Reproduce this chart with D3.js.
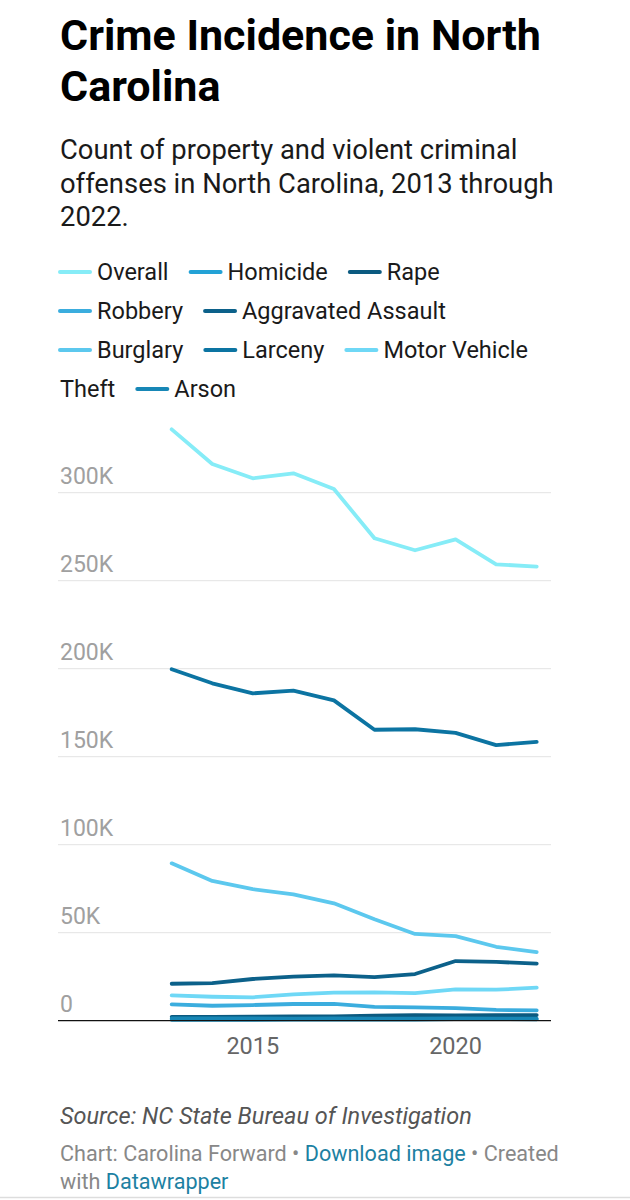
<!DOCTYPE html>
<html>
<head>
<meta charset="utf-8">
<script src="https://cdn.jsdelivr.net/npm/d3@7"></script>
<style>
  body { margin: 0; background: #fff; }
  svg { display: block; font-family: Roboto, "Noto Sans", sans-serif; }
</style>
</head>
<body>
<script>
// values, 2013 - 2022
var years = [2013, 2014, 2015, 2016, 2017, 2018, 2019, 2020, 2021, 2022];

var overall      = [336000, 316300, 308200, 311000, 302100, 274100, 267300, 273500, 259300, 258000];
var homicide     = [500, 510, 520, 590, 600, 610, 650, 910, 870, 800];
var rape         = [2200, 2150, 2300, 2400, 2500, 2800, 3200, 3000, 3100, 3200];
var robbery      = [9300, 8500, 8900, 9500, 9500, 7800, 7600, 7200, 6100, 5900];
var aggAssault   = [21000, 21400, 23700, 25000, 25800, 24800, 26500, 33900, 33400, 32400];
var burglary     = [89400, 79400, 74700, 71800, 66700, 57600, 49300, 48100, 42000, 39000];
var larceny      = [199700, 191700, 186000, 187500, 182000, 165300, 165600, 163500, 156600, 158400];
var motorVehicle = [14400, 13600, 13300, 15000, 15900, 16100, 15700, 17800, 17600, 18750];
var arson        = [1300, 1250, 1250, 1200, 1250, 1150, 1200, 1250, 1150, 1100];

var seriesNames = ['Overall', 'Homicide', 'Rape', 'Robbery', 'Aggravated Assault',
    'Burglary', 'Larceny', 'Motor Vehicle Theft', 'Arson'];
var seriesValues = [overall, homicide, rape, robbery, aggAssault,
    burglary, larceny, motorVehicle, arson];
var seriesColors = ['#86ecf7', '#23a2d6', '#0b5a80', '#3badde', '#0c618a',
    '#5cc8ee', '#0c74a2', '#6fd8f6', '#1787b6'];

var yTicks = [0, 50000, 100000, 150000, 200000, 250000, 300000];
var xTicks = [2015, 2020];

var width = 630;
var height = 1200;

var svg = d3.select('body').append('svg')
    .attr('width', width)
    .attr('height', height);

// title + description
var title = svg.append('text')
    .attr('x', 60)
    .attr('font-size', 43)
    .attr('font-weight', 700)
    .attr('fill', '#000');
title.append('tspan').attr('x', 60).attr('y', 50).text('Crime Incidence in North');
title.append('tspan').attr('x', 60).attr('y', 101).text('Carolina');

var desc = svg.append('text')
    .attr('font-size', 27.4)
    .attr('fill', '#1a1a1a');
['Count of property and violent criminal',
 'offenses in North Carolina, 2013 through',
 '2022.'].forEach(function(line, i) {
    desc.append('tspan').attr('x', 60).attr('y', 159 + i * 33.5).text(line);
});

// legend, laid out like inline text that wraps word by word
var legend = svg.append('g').attr('font-size', 23.5).attr('fill', '#1a1a1a');
var lx = 60, row = 0, maxX = 572, rowH = 39, firstBase = 280;
function measure(str) {
    var t = legend.append('text').text(str);
    var w = t.node().getComputedTextLength();
    t.remove();
    return w;
}
var spaceW = measure('a b') - measure('ab');
seriesNames.forEach(function(name, i) {
    if (lx + 37 + measure(name.split(' ')[0]) > maxX) { lx = 60; row++; }
    var cy = firstBase + row * rowH - 8;
    legend.append('line')
        .attr('x1', lx).attr('x2', lx + 30)
        .attr('y1', cy).attr('y2', cy)
        .attr('stroke', seriesColors[i])
        .attr('stroke-width', 4)
        .attr('stroke-linecap', 'round');
    lx += 37;
    name.split(' ').forEach(function(word, k) {
        var w = measure(word);
        if (k > 0) {
            if (lx + spaceW + w > maxX) { lx = 60; row++; }
            else { lx += spaceW; }
        }
        legend.append('text')
            .attr('x', lx)
            .attr('y', firstBase + row * rowH)
            .text(word);
        lx += w;
    });
    lx += 22;
});

// chart
var x = d3.scaleLinear().domain([2013, 2022]).range([171.7, 536.7]);
var y = d3.scaleLinear().domain([0, 300000]).range([1020.7, 492.7]);
var left = 58, right = 551;

var grid = svg.append('g');
grid.selectAll('.grid')
    .data(yTicks.filter(function(d) { return d > 0; }))
    .enter().append('line')
        .attr('class', 'grid')
        .attr('x1', left).attr('x2', right)
        .attr('y1', function(d) { return y(d); })
        .attr('y2', function(d) { return y(d); })
        .attr('stroke', '#e3e3e3')
        .attr('stroke-width', 1);

grid.selectAll('.ylabel')
    .data(yTicks)
    .enter().append('text')
        .attr('class', 'ylabel')
        .attr('x', 60)
        .attr('y', function(d) { return y(d) - 9; })
        .attr('font-size', 23)
        .attr('fill', '#a0a0a0')
        .text(function(d) { return d === 0 ? '0' : d3.format('d')(d / 1000) + 'K'; });

var line = d3.line()
    .x(function(d, i) { return x(years[i]); })
    .y(function(d) { return y(d); });

svg.append('g').selectAll('.series')
    .data(seriesValues)
    .enter().append('path')
        .attr('class', 'series')
        .attr('d', line)
        .attr('fill', 'none')
        .attr('stroke', function(d, i) { return seriesColors[i]; })
        .attr('stroke-width', 3.8)
        .attr('stroke-linejoin', 'round')
        .attr('stroke-linecap', 'round');

svg.append('line')
    .attr('x1', left).attr('x2', right)
    .attr('y1', y(0)).attr('y2', y(0))
    .attr('stroke', '#111')
    .attr('stroke-width', 1.2);

svg.append('g').selectAll('.xlabel')
    .data(xTicks)
    .enter().append('text')
        .attr('class', 'xlabel')
        .attr('x', function(d) { return x(d); })
        .attr('y', 1054)
        .attr('text-anchor', 'middle')
        .attr('font-size', 23.5)
        .attr('fill', '#666')
        .text(function(d) { return d; });

// footer
svg.append('text')
    .attr('x', 60).attr('y', 1124)
    .attr('font-size', 23.5)
    .attr('font-style', 'italic')
    .attr('fill', '#555')
    .text('Source: NC State Bureau of Investigation');

var credit = svg.append('text')
    .attr('font-size', 21.6)
    .attr('fill', '#888');
var l1 = credit.append('tspan').attr('x', 60).attr('y', 1161);
l1.append('tspan').text('Chart: Carolina Forward \u2022 ');
l1.append('tspan').attr('fill', '#1d81a2').text('Download image');
l1.append('tspan').text(' \u2022 Created');
credit.append('tspan').attr('x', 60).attr('y', 1189).text('with ');
credit.append('tspan').attr('fill', '#1d81a2').text('Datawrapper');

svg.append('line')
    .attr('x1', 0).attr('x2', width)
    .attr('y1', 1197.5).attr('y2', 1197.5)
    .attr('stroke', '#ddd')
    .attr('stroke-width', 1.5);
</script>
</body>
</html>
